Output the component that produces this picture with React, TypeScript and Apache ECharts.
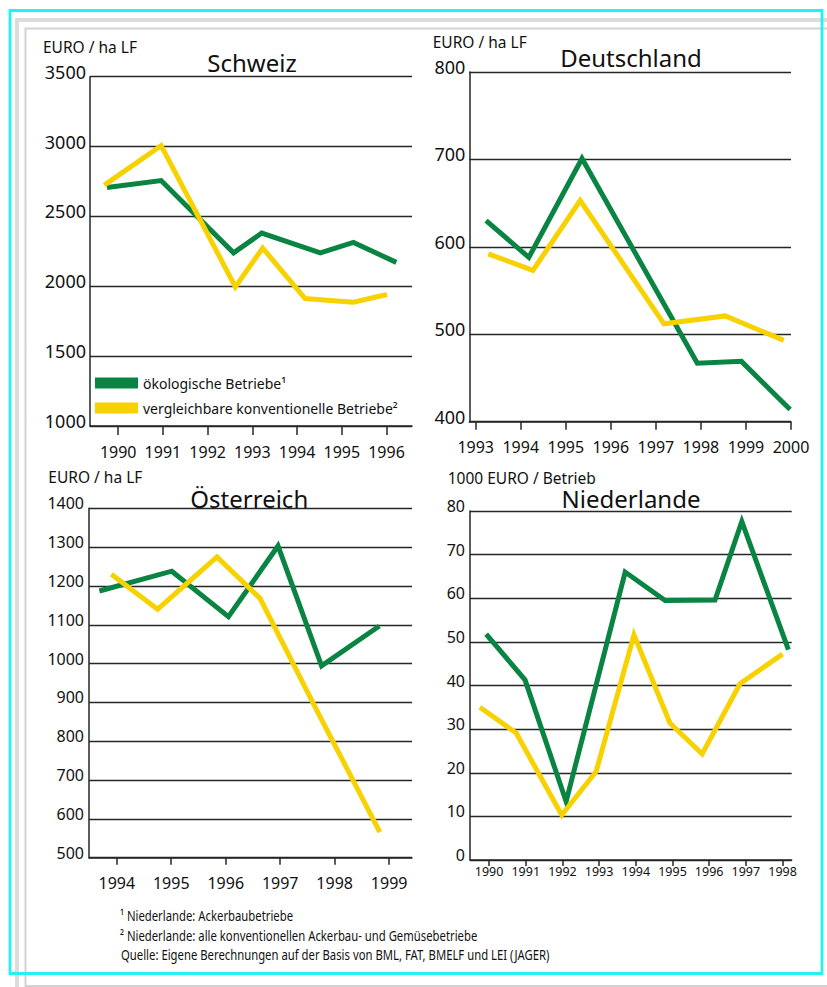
import React, { useEffect, useRef } from "react";
import * as echarts from "echarts";

const GREEN = "#0A8442";
const YELLOW = "#F7D200";
const INK = "#111111";
const LINE = "#262626";
const FONT = "'Noto Sans', sans-serif";

const OEKO = "ökologische Betriebe¹";
const KONV = "vergleichbare konventionelle Betriebe²";

// tick years
const schweizYears = [1990, 1991, 1992, 1993, 1994, 1995, 1996];
const deutschlandYears = [1993, 1994, 1995, 1996, 1997, 1998, 1999, 2000];
const oesterreichYears = [1994, 1995, 1996, 1997, 1998, 1999];
const niederlandeYears = [1990, 1991, 1992, 1993, 1994, 1995, 1996, 1997, 1998];

// [year position, value]
const schweizOeko = [[1989.75, 2707], [1990.96, 2757], [1992.58, 2239], [1993.21, 2381], [1994.52, 2239], [1995.26, 2314], [1996.22, 2171]];
const schweizKonv = [[1989.69, 2724], [1990.96, 3007], [1992.62, 1996], [1993.23, 2274], [1994.18, 1912], [1995.26, 1886], [1996.01, 1941]];

const deutschlandOeko = [[1993.23, 630], [1994.18, 588], [1995.36, 701], [1997.92, 467], [1998.9, 469], [1999.98, 414]];
const deutschlandKonv = [[1993.28, 592], [1994.27, 573], [1995.32, 653], [1997.18, 512], [1998.54, 521], [1999.84, 493]];

const oesterreichOeko = [[1993.68, 1187], [1995.01, 1238], [1996.05, 1121], [1996.96, 1303], [1997.76, 994], [1998.82, 1097]];
const oesterreichKonv = [[1993.9, 1230], [1994.75, 1140], [1995.84, 1275], [1996.63, 1168], [1997.7, 872], [1998.83, 566]];

const niederlandeOeko = [[1989.92, 51.8], [1990.98, 41.3], [1992.1, 13.4], [1993.71, 66], [1994.8, 59.5], [1996.16, 59.6], [1996.89, 77.6], [1998.16, 48.2]];
const niederlandeKonv = [[1989.75, 35], [1990.74, 29.1], [1991.98, 10.3], [1992.92, 20.3], [1993.95, 51.6], [1994.93, 31.4], [1995.81, 24.3], [1996.84, 40.4], [1998.0, 47.2]];

const footnotes = [
  "¹ Niederlande: Ackerbaubetriebe",
  "² Niederlande: alle konventionellen Ackerbau- und Gemüsebetriebe",
  "Quelle: Eigene Berechnungen auf der Basis von BML, FAT, BMELF und LEI (JAGER)",
];

function xAxis(gridIndex: number, min: number, max: number, years: number[], fontSize: number, tickLen: number, margin: number) {
  return {
    type: "value",
    gridIndex,
    min,
    max,
    axisLine: { show: true, onZero: false, lineStyle: { color: LINE, width: 1.5 } },
    axisTick: { show: true, customValues: years, length: tickLen, lineStyle: { color: LINE, width: 1.5 } },
    axisLabel: { customValues: years, fontSize, color: INK, fontFamily: FONT, margin, formatter: (v: number) => String(Math.round(v)) },
    splitLine: { show: false },
  };
}

function yAxis(gridIndex: number, min: number, max: number, interval: number, fontSize: number, margin: number) {
  return {
    type: "value",
    gridIndex,
    min,
    max,
    interval,
    axisLine: { show: true, lineStyle: { color: LINE, width: 1.5 } },
    axisTick: { show: false },
    axisLabel: {
      fontSize,
      color: INK,
      fontFamily: FONT,
      margin,
      verticalAlign: "bottom",
      lineHeight: 10,
      formatter: (v: number) => String(v),
    },
    splitLine: { show: true, lineStyle: { color: LINE, width: 1.3 } },
  };
}

function line(name: string, color: string, data: number[][], idx: number) {
  return {
    type: "line",
    name,
    xAxisIndex: idx,
    yAxisIndex: idx,
    data,
    symbol: "none",
    color,
    itemStyle: { color },
    lineStyle: { color, width: 5, join: "miter" },
    z: 3,
  };
}

function label(text: string, x: number, y: number, fontSize: number, align = "left") {
  return {
    type: "text",
    x,
    y,
    z: 10,
    style: {
      text,
      fontSize,
      fontFamily: FONT,
      fill: INK,
      textAlign: align,
      align,
      textVerticalAlign: "middle",
      verticalAlign: "middle",
    },
  };
}

export default function App() {
  const ref = useRef<HTMLDivElement>(null);
  useEffect(() => {
    if (!ref.current) return;
    const chart = echarts.init(ref.current, undefined, { renderer: "svg" });
    const option: any = {
      animation: false,
      backgroundColor: "#ffffff",
      textStyle: { fontFamily: FONT },
      grid: [
        { left: 90, top: 76.7, width: 322, height: 349.3 },
        { left: 469.3, top: 72, width: 321.7, height: 349.7 },
        { left: 89, top: 508.3, width: 323, height: 349.4 },
        { left: 470, top: 511, width: 321.7, height: 349 },
      ],
      xAxis: [
        xAxis(0, 1989.37, 1996.57, schweizYears, 16, 9, 18),
        xAxis(1, 1992.858, 2000.0, deutschlandYears, 16, 8, 17),
        xAxis(2, 1993.49, 1999.42, oesterreichYears, 16, 7, 17),
        xAxis(3, 1989.48, 1998.25, niederlandeYears, 12.5, 6, 5),
      ],
      yAxis: [
        yAxis(0, 1000, 3500, 500, 18, 4),
        yAxis(1, 400, 800, 100, 18, 4),
        yAxis(2, 500, 1400, 100, 16, 5),
        yAxis(3, 0, 80, 10, 16, 5),
      ],
      legend: {
        data: [
          { name: OEKO, icon: "rect" },
          { name: KONV, icon: "rect" },
        ],
        orient: "vertical",
        left: 95,
        top: 376,
        padding: 0,
        itemWidth: 43,
        itemHeight: 11,
        itemGap: 11,
        selectedMode: false,
        textStyle: { fontSize: 14, color: INK, fontFamily: FONT },
      },
      series: [
        line(OEKO, GREEN, schweizOeko, 0),
        line(KONV, YELLOW, schweizKonv, 0),
        line(OEKO, GREEN, deutschlandOeko, 1),
        line(KONV, YELLOW, deutschlandKonv, 1),
        line(OEKO, GREEN, oesterreichOeko, 2),
        line(KONV, YELLOW, oesterreichKonv, 2),
        line(OEKO, GREEN, niederlandeOeko, 3),
        line(KONV, YELLOW, niederlandeKonv, 3),
      ],
      graphic: [
        { type: "rect", shape: { x: 17, y: 20, width: 900, height: 1000 }, style: { fill: "none", stroke: "#dcdcdc", lineWidth: 4 }, z: 0 },
        { type: "rect", shape: { x: 25.5, y: 28.5, width: 900, height: 957.5 }, style: { fill: "none", stroke: "#d2d2d2", lineWidth: 2 }, z: 0 },
        { type: "rect", shape: { x: 10, y: 10.5, width: 812, height: 963 }, style: { fill: "none", stroke: "#22F2F2", lineWidth: 2.8 }, z: 1 },
        label("Schweiz", 252, 62, 24, "center"),
        label("Deutschland", 631, 57.3, 24, "center"),
        label("Österreich", 249.3, 498.3, 24, "center"),
        label("Niederlande", 631, 498.3, 24, "center"),
        label("EURO / ha LF", 43, 47, 15.5),
        label("EURO / ha LF", 432.7, 41.7, 15.5),
        label("EURO / ha LF", 48.3, 477.3, 15.5),
        label("1000 EURO / Betrieb", 447.7, 478.3, 15.5),
        { ...label(footnotes[0], 120, 915, 14.5), scaleX: 0.78 },
        { ...label(footnotes[1], 120, 935, 14.5), scaleX: 0.78 },
        { ...label(footnotes[2], 121, 954.3, 14.5), scaleX: 0.78 },
      ],
    };
    chart.setOption(option);
    return () => chart.dispose();
  }, []);
  return (
    <div
      ref={ref}
      style={{ position: "fixed", left: 0, top: 0, width: 827, height: 987, background: "#ffffff" }}
    />
  );
}
